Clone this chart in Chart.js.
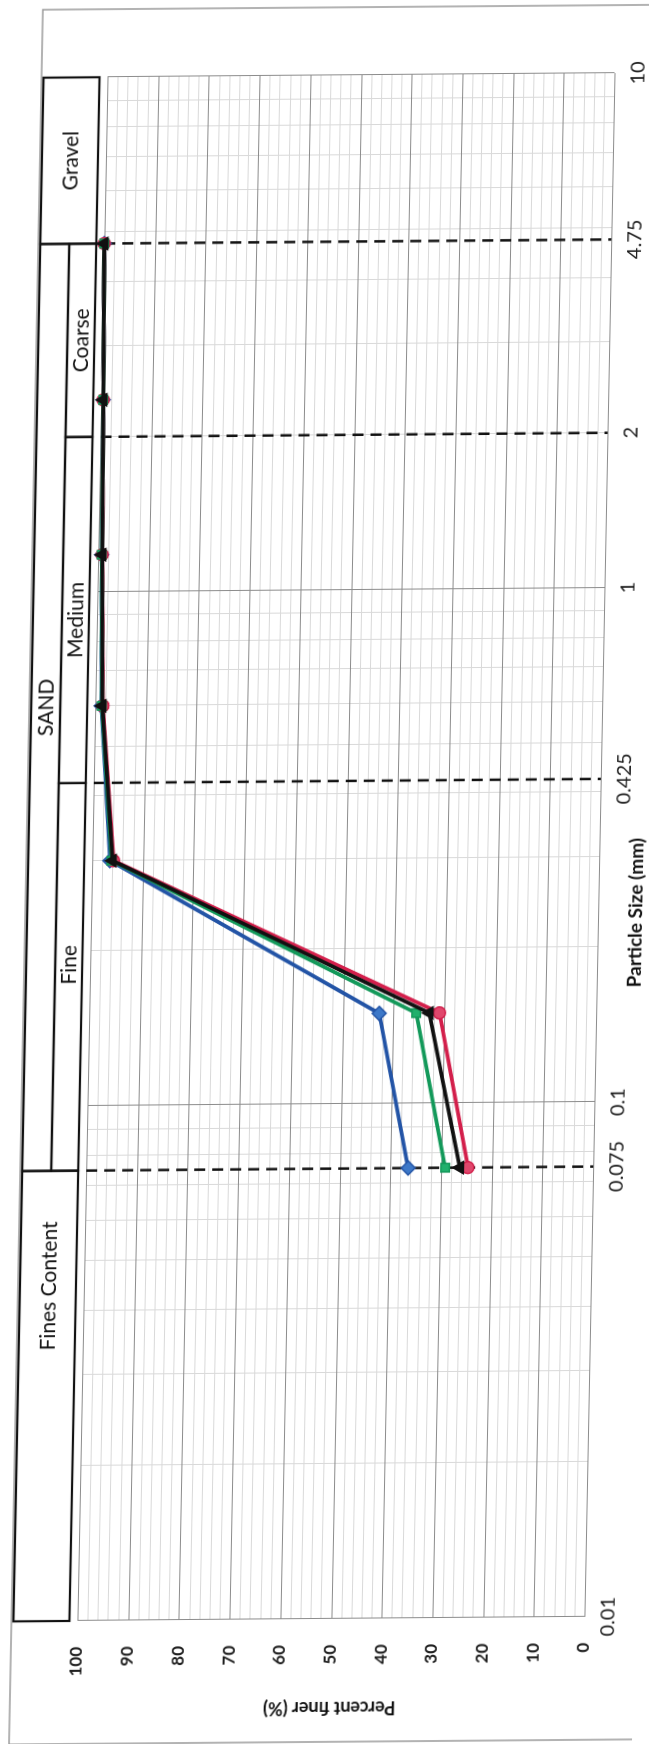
<!DOCTYPE html>
<html>
<head>
<meta charset="utf-8">
<script src="https://cdn.jsdelivr.net/npm/chart.js@4.4.1/dist/chart.umd.min.js"></script>
<style>
  html, body { margin: 0; padding: 0; background: #fff; overflow: hidden; }
  #page { position: relative; width: 649px; height: 1744px; overflow: hidden; background: #fff; }
  /* the scanned sheet is a little out of square */
  #sheet { position: absolute; left: 0; top: 0; width: 649px; height: 1744px;
           transform-origin: 324.5px 872px; transform: matrix(1, -0.008, -0.0195, 1, 0, 0); }
  /* chart is drawn landscape, then turned a quarter turn to the left */
  #turn { position: absolute; left: 0; top: 0; width: 1744px; height: 649px;
          transform-origin: 0 0; transform: translate(0, 1744px) rotate(-90deg); }
</style>
</head>
<body>
<div id="page"><div id="sheet"><div id="turn">
  <canvas id="myChart" width="1744" height="649"></canvas>
</div></div></div>
<script>
'use strict';

// sieve sizes (mm)
var sizes = [0.075, 0.15, 0.3, 0.6, 1.18, 2.36, 4.75];

// percent finer for each sample
var blackPass = [26.3, 32.9, 96.0, 98.6, 99.2, 99.6, 100];
var greenPass = [29.2, 35.5, 96.2, 98.7, 99.3, 99.6, 100];
var redPass   = [24.7, 30.9, 95.8, 98.5, 99.2, 99.6, 100];
var bluePass  = [36.5, 42.8, 96.5, 98.8, 99.3, 99.6, 100];

// axis labels
var xTickVals   = [0.01, 0.075, 0.1, 0.425, 1, 2, 4.75, 10];
var xTickLabels = ['0.01', '0.075', '0.1', '0.425', '1', '2', '4.75', '10'];
var yTickVals   = [0, 10, 20, 30, 40, 50, 60, 70, 80, 90, 100];

// class limits (dashed lines)
var limits = [0.075, 0.425, 2, 4.75];

// soil classes in the header strip
var classNames = ['Fines Content', 'SAND', 'Fine', 'Medium', 'Coarse', 'Gravel'];
var classFrom  = [0.01, 0.075, 0.075, 0.425, 2, 4.75];
var classTo    = [0.075, 4.75, 0.425, 2, 4.75, 10];
var classRow   = ['all', 'top', 'bottom', 'bottom', 'bottom', 'all'];

// gridline values
var majorX = [0.01, 0.1, 1, 10];
var minorX = [];
[0.01, 0.1, 1].forEach(function (d) {
  for (var m = 2; m <= 9; m++) minorX.push(+(m * d).toPrecision(3));
});

function toPoints(vals) {
  return sizes.map(function (s, i) { return { x: s, y: vals[i] }; });
}

var FONT = 'Lato, "Open Sans", sans-serif';

// grid, dashed limits, header strip, x title and frame
var soilPlugin = {
  id: 'soil',
  beforeDatasetsDraw: function (chart) {
    var ctx = chart.ctx, a = chart.chartArea;
    var xs = chart.scales.x, ys = chart.scales.y;
    ctx.save();
    ctx.lineWidth = 1;

    // minor grid
    ctx.strokeStyle = '#d9d9d9';
    ctx.beginPath();
    minorX.forEach(function (v) {
      var px = Math.round(xs.getPixelForValue(v)) + 0.5;
      ctx.moveTo(px, a.top); ctx.lineTo(px, a.bottom);
    });
    for (var p = 2; p < 100; p += 2) {
      if (p % 10 === 0) continue;
      var py = Math.round(ys.getPixelForValue(p)) + 0.5;
      ctx.moveTo(a.left, py); ctx.lineTo(a.right, py);
    }
    ctx.stroke();

    // major grid
    ctx.strokeStyle = '#8c8c8c';
    ctx.beginPath();
    majorX.forEach(function (v) {
      var px = Math.round(xs.getPixelForValue(v)) + 0.5;
      ctx.moveTo(px, a.top); ctx.lineTo(px, a.bottom);
    });
    yTickVals.forEach(function (v) {
      var py = Math.round(ys.getPixelForValue(v)) + 0.5;
      ctx.moveTo(a.left, py); ctx.lineTo(a.right, py);
    });
    ctx.stroke();

    // dashed class limits
    ctx.strokeStyle = '#111';
    ctx.lineWidth = 2.5;
    ctx.setLineDash([11, 7]);
    ctx.beginPath();
    limits.forEach(function (v) {
      var px = xs.getPixelForValue(v);
      ctx.moveTo(px, a.top); ctx.lineTo(px, a.bottom);
    });
    ctx.stroke();
    ctx.restore();
  },
  afterDraw: function (chart, args, opts) {
    var ctx = chart.ctx;
    var xs = chart.scales.x;
    var top = opts.bandTop, mid = opts.bandMid, bot = opts.bandBottom;
    ctx.save();

    // chart frame
    ctx.strokeStyle = '#9a9a9a';
    ctx.lineWidth = 1.5;
    ctx.strokeRect(opts.frameLeft, opts.frameTop, opts.frameRight - opts.frameLeft, 700);

    // class boxes
    ctx.strokeStyle = '#111';
    ctx.lineWidth = 2.2;
    ctx.font = '21px ' + FONT;
    ctx.fillStyle = '#111';
    ctx.textAlign = 'center';
    ctx.textBaseline = 'middle';
    classNames.forEach(function (name, i) {
      var x0 = xs.getPixelForValue(classFrom[i]);
      var x1 = xs.getPixelForValue(classTo[i]);
      var y0 = top, y1 = bot;
      if (classRow[i] === 'top') y1 = mid;
      if (classRow[i] === 'bottom') y0 = mid;
      ctx.strokeRect(x0, y0, x1 - x0, y1 - y0);
      ctx.fillText(name, (x0 + x1) / 2 + (opts.nudge[i] || 0), (y0 + y1) / 2 + 1);
    });

    // x axis title, set a little off centre as in the sheet
    ctx.font = 'bold 19px ' + FONT;
    ctx.fillText('Particle Size (mm)', (xs.left + xs.right) / 2 + opts.titleShift, opts.titleY);
    ctx.restore();
  }
};

var ctx = document.getElementById('myChart');

function series(label, vals, color, fill, shape, radius) {
  return {
    label: label,
    data: toPoints(vals),
    showLine: true,
    borderColor: color,
    backgroundColor: fill,
    borderWidth: 3.8,
    pointStyle: shape,
    pointRadius: radius,
    pointBorderWidth: 1.5,
    pointBorderColor: color,
    pointBackgroundColor: fill,
    tension: 0,
    clip: false
  };
}

var myChart = new Chart(ctx, {
  type: 'scatter',
  data: {
    datasets: [
      series('Sample 4', blackPass, '#111111', '#111111', 'triangle', 7),
      series('Sample 3', greenPass, '#13995a', '#20b06c', 'rect', 6),
      series('Sample 2', redPass, '#d31f4b', '#e0476c', 'circle', 6),
      series('Sample 1', bluePass, '#2354a6', '#3d78c8', 'rectRot', 7)
    ]
  },
  options: {
    responsive: false,
    animation: false,
    devicePixelRatio: 1,
    events: [],
    layout: { padding: { left: 0, right: 75, top: 92, bottom: 0 } },
    plugins: {
      legend: { display: false },
      tooltip: { enabled: false },
      soil: {
        bandTop: 28, bandMid: 57, bandBottom: 84,
        frameLeft: 2, frameRight: 1737, frameTop: 26,
        nudge: [110, 0, 12, -10, 0, 0],
        titleShift: -68, titleY: 637
      }
    },
    scales: {
      x: {
        type: 'logarithmic',
        min: 0.01,
        max: 10,
        afterFit: function (s) { s.height = 50; },
        afterBuildTicks: function (s) {
          s.ticks = xTickVals.map(function (v) { return { value: v }; });
        },
        grid: { display: false },
        border: { display: false },
        ticks: {
          autoSkip: false, maxRotation: 0, minRotation: 0, padding: 4,
          color: '#1e1e1e',
          font: { family: FONT, size: 20 },
          callback: function (v, i) { return xTickLabels[i]; }
        },
        title: { display: false }
      },
      y: {
        min: 0,
        max: 100,
        afterFit: function (s) { s.width = 125; },
        afterBuildTicks: function (s) {
          s.ticks = yTickVals.map(function (v) { return { value: v }; });
        },
        grid: { display: false },
        border: { display: false },
        ticks: {
          padding: 18, color: '#1e1e1e',
          font: { family: FONT, size: 17, weight: 'bold' }
        },
        title: {
          display: true, text: 'Percent finer (%)', color: '#111',
          font: { family: FONT, size: 18, weight: 'bold' },
          padding: { top: 25, bottom: 0 }
        }
      }
    }
  },
  plugins: [soilPlugin]
});
</script>
</body>
</html>
